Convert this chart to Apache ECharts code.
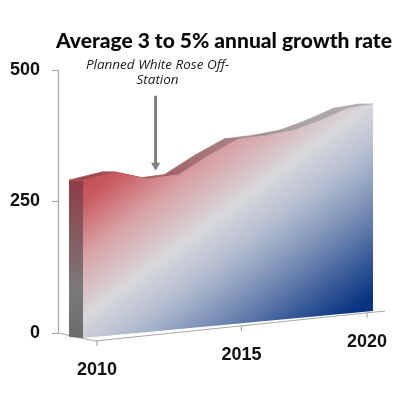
<!DOCTYPE html>
<html>
<head>
<meta charset="utf-8">
<script src="https://cdn.jsdelivr.net/npm/echarts@6/dist/echarts.min.js"></script>
<style>
html,body{margin:0;padding:0;background:#fff;}
#chart{width:415px;height:393px;}
</style>
</head>
<body>
<div id="chart"></div>
<script>
// ---- data ----
const chartTitle = 'Average 3 to 5% annual growth rate';
const years = [2010, 2011, 2012, 2013, 2014, 2015, 2016, 2017, 2018, 2019, 2020];
const values = [295, 309, 295, 302, 339, 371, 378, 389, 410, 435, 445];
const xTickYears = [2010, 2015, 2020];
const yMin = 0, yMax = 500, yStep = 250;
const noteText = 'Planned White Rose Off-\nStation';
const noteYear = 2012.25;
const noteTextValue = 500;
const noteArrowFrom = 455;
const noteArrowTo = 310;

// ---- view (3D look) ----
const K = 0.15;            // perspective foreshortening
const DEPTH = [-14, 0];    // offset of back edge of the area slab

const chart = echarts.init(document.getElementById('chart'), null, {renderer: 'canvas'});

function makeView(api) {
  const y0 = years[0], y1 = years[years.length - 1];
  const o = api.coord([y0, yMin]);
  const e = api.coord([y1, yMin]);
  const p = u => u * (1 + K) / (1 + K * u);
  const fx0 = o[0] + 25, fx1 = e[0];
  const fy0 = o[1] + 5, fy1 = o[1] - 22;
  function uOf(bx) { return (bx - o[0]) / (e[0] - o[0]); }
  function face(year, v) {
    const b = api.coord([year, v]);
    const u = uOf(b[0]);
    const x = fx0 + (fx1 - fx0) * p(u);
    const by = fy0 + (fy1 - fy0) * (x - fx0) / (fx1 - fx0);
    const h = (o[1] - b[1]) * 1.017 / (1 + K * u);
    return [x, by - h];
  }
  const flL = [o[0] + 37, o[1] + 8], flR = [e[0] + 12, o[1] - 22];
  function floor(year) {
    const b = api.coord([year, yMin]);
    const u = uOf(b[0]);
    const x = (o[0] + 39) + (e[0] - 6 - (o[0] + 39)) * p(u);
    const y = flL[1] + (flR[1] - flL[1]) * (x - flL[0]) / (flR[0] - flL[0]);
    return [x, y];
  }
  return {o, e, face, floor, flL, flR, fx0, fx1};
}

function renderAll(params, api) {
  if (params.dataIndex !== 0) return;
  const v = makeView(api);
  const kids = [];
  const axisColor = '#a8a8a8';
  // floor edges
  kids.push({type: 'line', shape: {x1: v.o[0], y1: v.o[1], x2: v.flL[0], y2: v.flL[1]},
    style: {stroke: axisColor, lineWidth: 1.2}});
  kids.push({type: 'line', shape: {x1: v.flL[0], y1: v.flL[1], x2: v.flR[0], y2: v.flR[1]},
    style: {stroke: axisColor, lineWidth: 1.2}});
  xTickYears.forEach(yr => {
    const pt = v.floor(yr);
    kids.push({type: 'line', shape: {x1: pt[0], y1: pt[1], x2: pt[0], y2: pt[1] + 5},
      style: {stroke: axisColor, lineWidth: 1.2}});
    kids.push({type: 'text', style: {text: String(yr), x: pt[0], y: pt[1] + 29,
      font: 'bold 18px "Liberation Sans", Arial, sans-serif', fill: '#111',
      align: 'center', verticalAlign: 'middle'}});
  });

  const front = years.map((yr, i) => v.face(yr, values[i]));
  const back = front.map(pt => [pt[0] + DEPTH[0], pt[1] + DEPTH[1]]);
  const b0 = v.face(years[0], yMin), b1 = v.face(years[years.length - 1], yMin);

  // side face
  kids.push({type: 'polygon', shape: {points: [front[0], back[0], [b0[0] + DEPTH[0], b0[1] + DEPTH[1] - 1], b0]},
    style: {fill: new echarts.graphic.LinearGradient(0, 0, 0, 1, [
      {offset: 0, color: '#8f3c44'}, {offset: 0.35, color: '#845c60'},
      {offset: 0.7, color: '#7a7a7c'}, {offset: 1, color: '#6c6c6e'}])}});

  // top band
  const topGrad = new echarts.graphic.LinearGradient(v.fx0, 0, v.fx1, 0, [
    {offset: 0, color: '#9e474b'}, {offset: 0.35, color: '#a46a6e'},
    {offset: 0.7, color: '#a89ea2'}, {offset: 1, color: '#b2b0b6'}], true);
  for (let i = 0; i < front.length - 1; i++) {
    kids.push({type: 'polygon', shape: {points: [front[i], front[i + 1], back[i + 1], back[i]]},
      style: {fill: topGrad, stroke: topGrad, lineWidth: 0.8}});
  }

  // front face
  const facePts = front.concat([b1, b0]);
  kids.push({type: 'polygon', shape: {points: facePts},
    style: {fill: new echarts.graphic.LinearGradient(0.2, 0, 0.8, 1, [
      {offset: 0, color: '#bd3a44'}, {offset: 0.15, color: '#c95a61'},
      {offset: 0.3, color: '#d8a2a6'}, {offset: 0.47, color: '#d8d8dc'},
      {offset: 0.6, color: '#b4bdd0'}, {offset: 0.75, color: '#788db5'},
      {offset: 0.9, color: '#345797'}, {offset: 1, color: '#0a3482'}])}});

  // annotation
  const tp = v.face(noteYear, noteTextValue);
  kids.push({type: 'text', style: {text: noteText, x: tp[0] + 2, y: tp[1],
    font: 'italic 13.5px "Open Sans", sans-serif', fill: '#1a1a1a', lineHeight: 15,
    align: 'center', verticalAlign: 'middle'}});
  const a0 = v.face(noteYear, noteArrowFrom), a1 = v.face(noteYear, noteArrowTo);
  kids.push({type: 'line', shape: {x1: a0[0], y1: a0[1], x2: a1[0], y2: a1[1] - 6},
    style: {stroke: '#7f7f7f', lineWidth: 3}});
  kids.push({type: 'polygon', shape: {points: [[a1[0] - 4.5, a1[1] - 8], [a1[0] + 4.5, a1[1] - 8], a1]},
    style: {fill: '#7f7f7f'}});

  return {type: 'group', children: kids};
}

chart.setOption({
  animation: false,
  backgroundColor: '#fff',
  title: {
    text: chartTitle, left: 51, top: 26,
    textStyle: {fontFamily: 'Lato', fontWeight: 900, fontSize: 21, color: '#0a0a0a'}
  },
  grid: {left: 58, top: 70, width: 315, height: 263},
  xAxis: {type: 'value', min: years[0], max: years[years.length - 1], show: false},
  yAxis: {
    type: 'value', min: yMin, max: yMax, interval: yStep,
    axisLine: {show: true, lineStyle: {color: '#a8a8a8', width: 1.2}},
    axisTick: {show: true, length: 6, lineStyle: {color: '#a8a8a8', width: 1.2}},
    splitLine: {show: false},
    axisLabel: {margin: 18, color: '#111', fontSize: 18, fontWeight: 'bold',
      fontFamily: '"Liberation Sans", Arial, sans-serif'}
  },
  series: [{
    type: 'custom',
    coordinateSystem: 'cartesian2d',
    clip: false,
    renderItem: renderAll,
    data: years.map((yr, i) => [yr, values[i]])
  }]
});
</script>
</body>
</html>
